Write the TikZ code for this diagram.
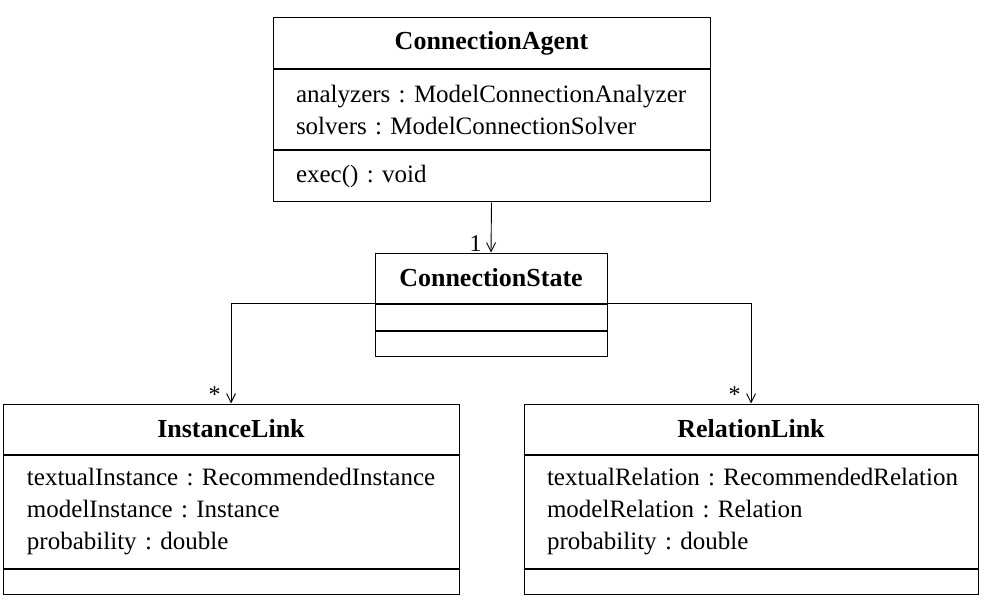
\documentclass[tikz,border=0pt]{standalone}
\usepackage{fontspec}
\setmainfont{Liberation Serif}
\frenchspacing
\usetikzlibrary{arrows.meta, positioning}
\tikzset{
    % Class parts - sharp corners, no fill
    classname/.style={
        rectangle,
        draw=black,
        line width=1pt,
        inner sep=0pt,
        text centered,
        font=\fontsize{26}{30}\selectfont\bfseries
    },
    classbody/.style={
        rectangle,
        draw=black,
        line width=1pt,
        inner ysep=0pt,
        align=left,
        font=\fontsize{25}{32}\selectfont
    },
    % Arrow styles
    assocarrow/.style={
        -{Straight Barb[length=9pt,width=9pt]},
        line width=0.9pt,
        black
    },
    multlabel/.style={
        inner sep=1pt,
        font=\fontsize{24}{26}\selectfont
    }
}
\begin{document}
\begin{tikzpicture}[x=1pt, y=-1pt]
    \useasboundingbox (0,0) rectangle (985,604);

    % ConnectionAgent
    \node[classname, minimum width=437pt, minimum height=51pt] (agent) at (491.5,43.5) {ConnectionAgent};
    \node[classbody, anchor=north, text width=391pt, inner xsep=23pt, minimum height=80pt] (agentattr) at (agent.south) {\mbox{analyzers : ModelConnectionAnalyzer}\\ \mbox{solvers : ModelConnectionSolver}};
    \node[classbody, anchor=north, text width=391pt, inner xsep=23pt, minimum height=51pt] (agentops) at (agentattr.south) {exec() : void};

    % ConnectionState
    \node[classname, minimum width=232pt, minimum height=50pt] (state) at (491,278) {ConnectionState};
    \node[classbody, anchor=north, minimum width=232pt, minimum height=26pt] (stateattr) at (state.south) {};
    \node[classbody, anchor=north, minimum width=232pt, minimum height=25pt] (stateops) at (stateattr.south) {};

    % InstanceLink
    \node[classname, minimum width=456pt, minimum height=50pt] (instlink) at (231,429) {InstanceLink};
    \node[classbody, anchor=north, text width=408pt, inner xsep=24pt, minimum height=113pt] (instattr) at (instlink.south) {\mbox{textualInstance : RecommendedInstance}\\ \mbox{modelInstance : Instance}\\ \mbox{probability : double}};
    \node[classbody, anchor=north, minimum width=456pt, minimum height=25pt] (instops) at (instattr.south) {};

    % RelationLink
    \node[classname, minimum width=454pt, minimum height=50pt] (rellink) at (751,429) {RelationLink};
    \node[classbody, anchor=north, text width=408pt, inner xsep=23pt, minimum height=113pt] (relattr) at (rellink.south) {\mbox{textualRelation : RecommendedRelation}\\ \mbox{modelRelation : Relation}\\ \mbox{probability : double}};
    \node[classbody, anchor=north, minimum width=454pt, minimum height=25pt] (relops) at (relattr.south) {};

    % Associations
    \draw[assocarrow] (agentops.south) -- (state.north) node[multlabel, anchor=south east, xshift=-8pt] {1};
    \draw[assocarrow] (stateattr.north west) -| (instlink.north) node[multlabel, anchor=south east, xshift=-9pt] {*};
    \draw[assocarrow] (stateattr.north east) -| (rellink.north) node[multlabel, anchor=south east, xshift=-9pt] {*};
\end{tikzpicture}
\end{document}
